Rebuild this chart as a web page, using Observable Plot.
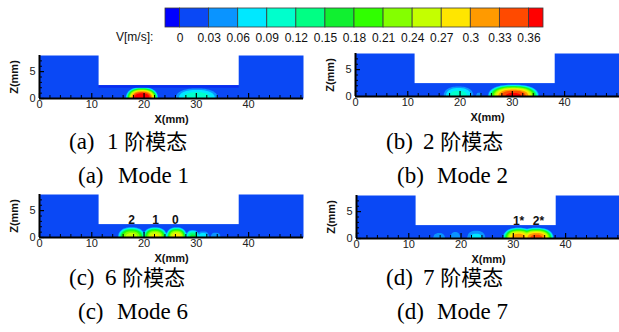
<!DOCTYPE html>
<html><head><meta charset="utf-8">
<script src="https://cdn.jsdelivr.net/npm/d3@7"></script>
<script src="https://cdn.jsdelivr.net/npm/@observablehq/plot@0.6"></script>
<style>
html,body{margin:0;padding:0;background:#fff;overflow:hidden;width:619px;height:332px;}
#root{position:relative;width:619px;height:332px;overflow:hidden;}
.cap{position:absolute;font-family:"Liberation Serif","Noto Sans CJK SC",serif;font-size:23px;white-space:pre;line-height:1;color:#000;transform:translateY(-50%);}
.cap .cjk{font-size:21px;}
.vlab{position:absolute;font-family:"Liberation Sans",Arial,sans-serif;font-size:12px;line-height:1;color:#111;transform:translateY(-50%);}
</style></head><body><div id="root"></div>
<script>
// ---- colour legend levels (m/s) ----
const levels = [0, 0.03, 0.06, 0.09, 0.12, 0.15, 0.18, 0.21, 0.24, 0.27, 0.3, 0.33, 0.36];
const colors = ["#0000ff","#0a48f5","#0a94ff","#00e8ff","#00ffcc","#00ff84","#10f030","#30ff00","#84ff00","#c4ff00","#ffe600","#ff9a00","#ff4a00","#ff0000"];
const legendLow = [-0.015, 0, 0.03, 0.06, 0.09, 0.12, 0.15, 0.18, 0.21, 0.24, 0.27, 0.3, 0.33, 0.36];
const legendHigh = [0, 0.03, 0.06, 0.09, 0.12, 0.15, 0.18, 0.21, 0.24, 0.27, 0.3, 0.33, 0.36, 0.375];
const backgroundValue = 0.015;

// ---- axes ----
const xDomain = [0, 50.5];
const zDomain = [0, 8];
const xTicks = [0, 10, 20, 30, 40];
const xMinorTicks = [2, 4, 6, 8, 12, 14, 16, 18, 22, 24, 26, 28, 32, 34, 36, 38, 42, 44, 46, 48, 50];
const zTicks = [0, 5];
const zMinorTicks = [1, 2, 3, 4, 6, 7];

// ---- obstacle (white region), mm ----
const obstacleX = [11.4, 38.2];
const obstacleZ = [2.4, 8];

// ---- velocity hot spots per mode: centre x (mm), peak V (m/s), half width (mm), height (mm) ----
const mode1X = [19.6, 30.1];
const mode1V = [0.40, 0.11];
const mode1W = [3.1, 4.1];
const mode1H = [2.1, 1.9];

const mode2X = [19.7, 23.6, 30.2];
const mode2V = [0.105, 0.045, 0.37];
const mode2W = [2.9, 0.6, 4.9];
const mode2H = [1.9, 0.8, 2.2];

const mode6X = [17.6, 22.1, 26.2, 29.3, 31.3, 33.7];
const mode6V = [0.26, 0.28, 0.29, 0.16, 0.08, 0.05];
const mode6W = [2.6, 2.3, 2.0, 1.3, 1.2, 1.0];
const mode6H = [1.9, 1.9, 1.9, 1.4, 1.2, 1.0];

const mode7X = [15.8, 18.9, 22.9, 31.0, 34.4];
const mode7V = [0.05, 0.05, 0.07, 0.325, 0.345];
const mode7W = [1.2, 1.0, 1.8, 3.0, 3.3];
const mode7H = [1.1, 1.3, 1.5, 2.0, 2.0];

// ---- node labels ----
const mode6Labels = ["2", "1", "0"];
const mode6LabelX = [17.6, 22.2, 26.0];
const mode7Labels = ["1*", "2*"];
const mode7LabelX = [31.0, 34.8];
const labelZ = 3.3;

const colorScale = {type: "threshold", domain: levels, range: colors};

function field(cx, cv, cw, ch) {
  return (x, z) => {
    let v = backgroundValue;
    for (let i = 0; i < cx.length; i++) {
      const dx = Math.abs(x - cx[i]) / cw[i];
      const dz = Math.abs(z) / ch[i];
      const r = Math.pow(Math.pow(dx, 2.4) + Math.pow(dz, 2.4), 1 / 2.4);
      if (r < 1) v = Math.max(v, cv[i] - (cv[i] - 0.026) * Math.pow(r, 3));
    }
    return v;
  };
}

const FW = 264, FH = 43;
function panel(cx, cv, cw, ch, labels, labelX, edge) {
  const marks = [
    Plot.frame({fill: colors[1]}),
    Plot.contour({fill: field(cx, cv, cw, ch), x1: xDomain[0], x2: xDomain[1], y1: zDomain[0], y2: zDomain[1],
      thresholds: levels.slice(1), pixelSize: 1, stroke: "none"}),
    Plot.rect([0], {x1: () => obstacleX[0], x2: () => obstacleX[1], y1: () => obstacleZ[0], y2: () => obstacleZ[1], fill: "white"})
  ];
  if (edge) marks.push(Plot.ruleY([obstacleZ[0]], {x1: obstacleX[0], x2: obstacleX[1], stroke: "#0a2cf0", strokeWidth: 2.5, dy: 1}));
  if (labels) marks.push(Plot.text(labels, {x: (d, i) => labelX[i], y: () => labelZ, text: d => d, fontWeight: "bold", fontSize: 12, fill: "#111"}));
  marks.push(
    Plot.tickX(xMinorTicks, {x: d => d, stroke: "#000", strokeWidth: 1, insetTop: FH - 3}),
    Plot.tickX(xTicks, {x: d => d, stroke: "#000", strokeWidth: 1.2, insetTop: FH - 5}),
    Plot.tickY(zMinorTicks, {y: d => d, stroke: "#000", strokeWidth: 1, insetRight: FW - 3}),
    Plot.tickY(zTicks, {y: d => d, stroke: "#000", strokeWidth: 1.2, insetRight: FW - 5}),
    Plot.ruleY([zDomain[0]], {stroke: "#000", strokeWidth: 2}),
    Plot.ruleX([xDomain[0]], {stroke: "#000", strokeWidth: 2}),
    Plot.axisX({ticks: xTicks, tickSize: 0, tickPadding: 2, label: null, fill: "#222"}),
    Plot.axisY({ticks: zTicks, tickSize: 0, tickPadding: 4, label: null, fill: "#222"}),
    Plot.text(["X(mm)"], {text: d => d, frameAnchor: "bottom", textAnchor: "middle", lineAnchor: "middle", dy: 21, fontWeight: "bold", fontSize: 11, fill: "#111"}),
    Plot.text(["Z(mm)"], {text: d => d, frameAnchor: "left", textAnchor: "middle", lineAnchor: "middle", dx: -25, rotate: -90, fontWeight: "bold", fontSize: 11, fill: "#111"})
  );
  return Plot.plot({
    width: 39 + FW + 5, height: 10 + FH + 28,
    marginLeft: 39, marginRight: 5, marginTop: 10, marginBottom: 28,
    x: {domain: xDomain}, y: {domain: zDomain},
    color: colorScale,
    style: {fontFamily: "'Liberation Sans', Arial, sans-serif", fontSize: "11px", background: "transparent", overflow: "visible"},
    marks
  });
}

const root = document.getElementById("root");
function place(node, left, top) {
  node.style.position = "absolute";
  node.style.left = left + "px";
  node.style.top = top + "px";
  root.appendChild(node);
}

// colour bar
const bar = Plot.plot({
  width: 619, height: 45, marginLeft: 165, marginRight: 76, marginTop: 8, marginBottom: 18,
  x: {domain: [legendLow[0], legendHigh[legendHigh.length - 1]]},
  color: colorScale,
  style: {fontFamily: "'Liberation Sans', Arial, sans-serif", fontSize: "12px", background: "transparent", overflow: "visible"},
  marks: [
    Plot.rect(legendLow, {x1: d => d, x2: (d, i) => legendHigh[i], fill: (d, i) => (d + legendHigh[i]) / 2, stroke: "#3a3a3a", strokeWidth: 0.8}),
    Plot.axisX({ticks: levels, tickSize: 0, tickPadding: 6, tickFormat: d => String(d), label: null, fill: "#111"})
  ]
});
place(bar, 0, 0);
const vl = document.createElement("div");
vl.className = "vlab"; vl.textContent = "V[m/s]:";
vl.style.left = "116px"; vl.style.top = "37px";
root.appendChild(vl);

place(panel(mode1X, mode1V, mode1W, mode1H, null, null, true), 0, 45);
place(panel(mode2X, mode2V, mode2W, mode2H, null, null, false), 316, 43);
place(panel(mode6X, mode6V, mode6W, mode6H, mode6Labels, mode6LabelX, false), 0, 184);
place(panel(mode7X, mode7V, mode7W, mode7H, mode7Labels, mode7LabelX, false), 317, 185);

const captions = [
  ["(a)", "", 69, 141], ["1 ", "阶模态", 107, 141],
  ["(a)", "", 78, 175], ["Mode 1", "", 118, 175],
  ["(b)", "", 386, 141], ["2 ", "阶模态", 423, 141],
  ["(b)", "", 397, 175], ["Mode 2", "", 437, 175],
  ["(c)", "", 69, 277], ["6 ", "阶模态", 105, 277],
  ["(c)", "", 78, 311], ["Mode 6", "", 117, 311],
  ["(d)", "", 386, 277], ["7 ", "阶模态", 423, 277],
  ["(d)", "", 397, 311], ["Mode 7", "", 437, 311]
];
for (const [t, c, x, y] of captions) {
  const d = document.createElement("div");
  d.className = "cap";
  d.appendChild(document.createTextNode(t));
  if (c) { const s = document.createElement("span"); s.className = "cjk"; s.textContent = c; d.appendChild(s); }
  d.style.left = x + "px"; d.style.top = y + "px";
  root.appendChild(d);
}
</script>
</body></html>
